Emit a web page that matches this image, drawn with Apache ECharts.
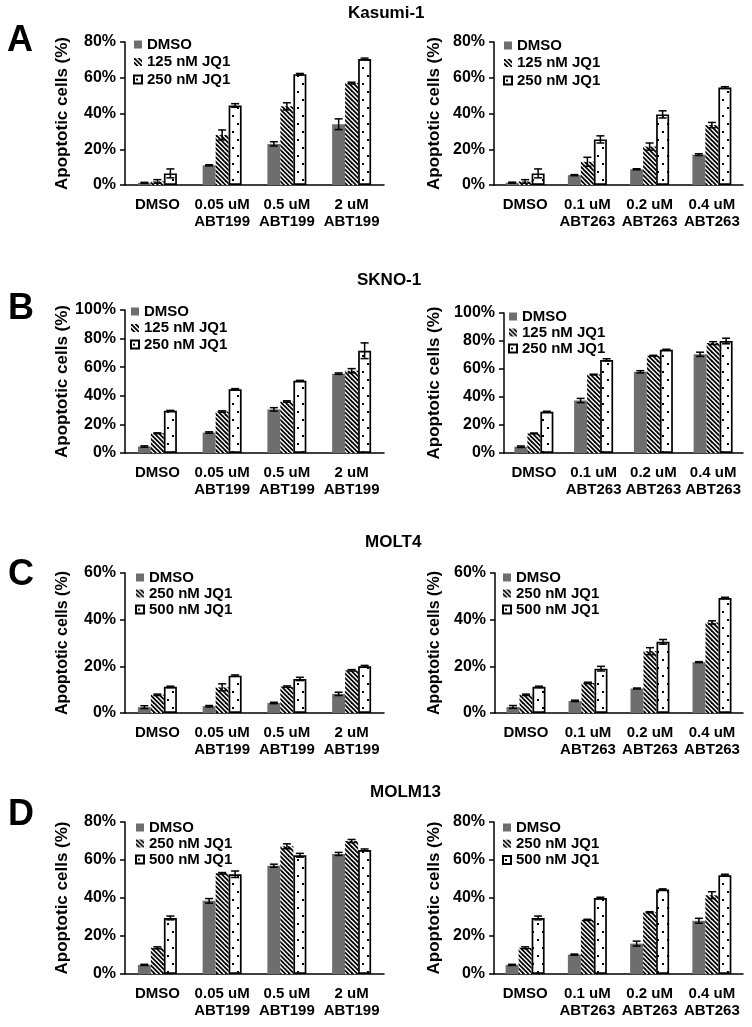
<!DOCTYPE html>
<html>
<head>
<meta charset="utf-8">
<script src="https://cdn.jsdelivr.net/npm/echarts@6/dist/echarts.min.js"></script>
<style>html,body{margin:0;padding:0;background:#fff}#c{width:752px;height:1027px}</style>
</head>
<body>
<div id="c"></div>
<script>
// ---------- data ----------
const catsABT199 = ['DMSO', '0.05 uM\nABT199', '0.5 uM\nABT199', '2 uM\nABT199'];
const catsABT263 = ['DMSO', '0.1 uM\nABT263', '0.2 uM\nABT263', '0.4 uM\nABT263'];
const namesAB = ['DMSO', '125 nM JQ1', '250 nM JQ1'];
const namesCD = ['DMSO', '250 nM JQ1', '500 nM JQ1'];
const rowTitles = ['Kasumi-1', 'SKNO-1', 'MOLT4', 'MOLM13'];
const rowLetters = ['A', 'B', 'C', 'D'];
const yMaxes = [80, 80, 100, 100, 60, 60, 80, 80];
const yInterval = 20;

// values in %, rows = DMSO, low JQ1, high JQ1
const kasumiABT199 = [[1.2, 11, 23, 34], [2, 28, 44, 57], [6.5, 44.5, 62, 70.5]];
const kasumiABT199Err = [[0.3, 0.3, 1.2, 3], [1, 2.8, 2, 0.5], [2.5, 1, 0.4, 0.5]];
const kasumiABT263 = [[1.3, 5.5, 8.8, 17], [2, 13, 21.5, 33.5], [6.5, 25.5, 39.5, 54.5]];
const kasumiABT263Err = [[0.3, 0.3, 0.3, 0.5], [1, 2.5, 2, 1.5], [2.5, 2, 2, 0.5]];
const sknoABT199 = [[4.5, 14.3, 30.5, 55.5], [13.8, 29, 36, 57.5], [29.5, 44.5, 50.5, 71.5]];
const sknoABT199Err = [[0.5, 0.5, 1.2, 0.5], [0.3, 0.5, 0.5, 1.5], [0.3, 0.5, 0.3, 5.5]];
const sknoABT263 = [[4.5, 37.5, 58, 70.5], [14, 56, 69.5, 78.5], [29.5, 66.5, 73.8, 80]];
const sknoABT263Err = [[0.5, 1.5, 0.8, 1.5], [0.3, 0.3, 0.3, 1], [0.3, 0.8, 0.3, 2]];
const moltABT199 = [[2.5, 2.9, 4.3, 8.2], [7.8, 11, 11.3, 18.3], [11.2, 16, 14.6, 20]];
const moltABT199Err = [[0.6, 0.3, 0.3, 0.7], [0.3, 1.5, 0.3, 0.3], [0.3, 0.3, 0.7, 0.4]];
const moltABT263 = [[2.6, 5.2, 10.5, 21.8], [7.8, 12.9, 26.5, 38.8], [11.2, 19, 30.5, 49.3]];
const moltABT263Err = [[0.6, 0.3, 0.2, 0.2], [0.3, 0.3, 1.5, 0.7], [0.3, 1, 1, 0.3]];
const molmABT199 = [[4.8, 38.5, 57, 63.2], [13.8, 53, 67.2, 70], [29.5, 52.5, 62.5, 65.3]];
const molmABT199Err = [[0.3, 1.2, 0.8, 0.8], [0.5, 0.4, 1.3, 0.8], [1, 1.7, 1, 0.5]];
const molmABT263 = [[4.8, 10.2, 16, 28], [13.8, 28.5, 32.5, 41.5], [29.5, 40, 44.5, 52]];
const molmABT263Err = [[0.3, 0.3, 1.3, 1.3], [0.5, 0.3, 0.3, 1.8], [1, 0.4, 0.3, 0.5]];

// ---------- styles ----------
const FONT = '"Liberation Sans", Arial, sans-serif';
const BAR_W = 13;
const GRAY = '#6e6e6e';

function hatchPattern() {
  const c = document.createElement('canvas');
  c.width = 9; c.height = 9;
  const g = c.getContext('2d');
  g.fillStyle = '#fff'; g.fillRect(0, 0, 9, 9);
  g.strokeStyle = '#000'; g.lineWidth = 1.8;
  for (const k of [-9, -4.5, 0, 4.5, 9]) {
    g.beginPath(); g.moveTo(-2, -2 + k); g.lineTo(11, 11 + k); g.stroke();
  }
  return { image: c, repeat: 'repeat' };
}
function dotPattern() {
  const c = document.createElement('canvas');
  c.width = 10; c.height = 16;
  const g = c.getContext('2d');
  g.fillStyle = '#fff'; g.fillRect(0, 0, 10, 16);
  g.fillStyle = '#000';
  g.fillRect(2, 3, 2, 2);
  g.fillRect(7, 11, 2, 2);
  return { image: c, repeat: 'repeat' };
}
const HATCH = hatchPattern();
const DOTS = dotPattern();
const barStyles = [
  { color: GRAY },
  { color: HATCH },
  { color: DOTS, borderColor: '#000', borderWidth: 1.7 }
];

// ---------- layout ----------
const grids = [
  { left: 125, top: 42, width: 259, height: 143 },
  { left: 494, top: 42, width: 249, height: 143 },
  { left: 125, top: 310, width: 259, height: 143 },
  { left: 504, top: 313, width: 239, height: 140 },
  { left: 125, top: 573, width: 259, height: 140 },
  { left: 495, top: 573, width: 248, height: 140 },
  { left: 125, top: 822, width: 259, height: 152 },
  { left: 494, top: 822, width: 249, height: 152 }
];
const nameGaps = [54, 51, 54, 61, 54, 52, 54, 51];
const nameSizes = [17, 17, 17, 17, 16, 16, 17, 17];
const legendPos = [
  { left: 133, top: 37, gap: 2.5 },
  { left: 503, top: 38, gap: 2.5 },
  { left: 130, top: 304, gap: 1.5 },
  { left: 508, top: 309, gap: 1 },
  { left: 135, top: 570, gap: 1 },
  { left: 502, top: 570, gap: 1 },
  { left: 135, top: 820, gap: 1 },
  { left: 502, top: 820, gap: 1.2 }
];
const titlePos = [
  { x: 348, y: 13 }, { x: 357, y: 280 }, { x: 365, y: 542 }, { x: 370, y: 792 }
];
const letterPos = [
  { x: 7, y: 41 }, { x: 8, y: 309 }, { x: 8, y: 575 }, { x: 8, y: 815 }
];

const panels = [
  [catsABT199, kasumiABT199, kasumiABT199Err, namesAB, ''],
  [catsABT263, kasumiABT263, kasumiABT263Err, namesAB, ''],
  [catsABT199, sknoABT199, sknoABT199Err, namesAB, ''],
  [catsABT263, sknoABT263, sknoABT263Err, namesAB, ''],
  [catsABT199, moltABT199, moltABT199Err, namesCD, '#2'],
  [catsABT263, moltABT263, moltABT263Err, namesCD, '#2'],
  [catsABT199, molmABT199, molmABT199Err, namesCD, '#2'],
  [catsABT263, molmABT263, molmABT263Err, namesCD, '#2']
];

function errRender(params, api) {
  const cat = api.value(0), s = api.value(1), v = api.value(2), e = api.value(3);
  const top = api.coord([cat, v + e]);
  const bot = api.coord([cat, v - e]);
  const x = top[0] + (s - 1) * BAR_W;
  const st = { stroke: '#000', lineWidth: 1.5 };
  return {
    type: 'group',
    children: [
      { type: 'line', shape: { x1: x, y1: top[1], x2: x, y2: bot[1] }, style: st },
      { type: 'line', shape: { x1: x - 4, y1: top[1], x2: x + 4, y2: top[1] }, style: st },
      { type: 'line', shape: { x1: x - 4, y1: bot[1], x2: x + 4, y2: bot[1] }, style: st }
    ]
  };
}

const xAxis = [], yAxis = [], series = [], legend = [], graphic = [];
panels.forEach((p, i) => {
  const [cats, vals, errs, names, suffix] = p;
  xAxis.push({
    type: 'category', gridIndex: i, data: cats,
    axisLine: { lineStyle: { color: '#000', width: 1.5 } },
    axisTick: { length: 6, lineStyle: { color: '#000', width: 1.5 } },
    axisLabel: { interval: 0, color: '#000', fontFamily: FONT, fontWeight: 'bold', fontSize: 15, lineHeight: 17, margin: 11 }
  });
  yAxis.push({
    type: 'value', gridIndex: i, min: 0, max: yMaxes[i], interval: yInterval,
    name: 'Apoptotic cells (%)', nameLocation: 'middle', nameGap: nameGaps[i],
    nameTextStyle: { color: '#000', fontFamily: FONT, fontWeight: 'bold', fontSize: nameSizes[i] },
    splitLine: { show: false },
    axisLine: { show: true, lineStyle: { color: '#000', width: 1.5 } },
    axisTick: { show: true, length: 5, lineStyle: { color: '#000', width: 1.5 } },
    axisLabel: { formatter: '{value}%', color: '#000', fontFamily: FONT, fontWeight: 'bold', fontSize: 16, margin: 9 }
  });
  const errData = [];
  vals.forEach((row, s) => {
    series.push({
      type: 'bar', name: names[s] + suffix, xAxisIndex: i, yAxisIndex: i,
      data: row, barWidth: BAR_W, barGap: '0%', itemStyle: barStyles[s],
      emphasis: { disabled: true }, animation: false
    });
    row.forEach((v, c) => errData.push([c, s, v, errs[s][c]]));
  });
  series.push({
    type: 'custom', xAxisIndex: i, yAxisIndex: i, renderItem: errRender,
    data: errData, encode: { x: 0, y: 2 }, z: 10, animation: false, silent: true
  });
  legend.push({
    data: names.map(n => n + suffix), orient: 'vertical',
    left: legendPos[i].left, top: legendPos[i].top, itemGap: legendPos[i].gap,
    itemWidth: 8, itemHeight: 8, padding: 0, icon: 'rect',
    formatter: n => n.replace('#2', ''), selectedMode: false,
    textStyle: { color: '#000', fontFamily: FONT, fontWeight: 'bold', fontSize: 15 }
  });
});

rowTitles.forEach((t, r) => {
  graphic.push({
    type: 'text', x: titlePos[r].x, y: titlePos[r].y,
    style: { text: t, fill: '#000', font: 'bold 17px ' + FONT, verticalAlign: 'middle', align: 'left' }
  });
  graphic.push({
    type: 'text', x: letterPos[r].x, y: letterPos[r].y,
    style: { text: rowLetters[r], fill: '#000', font: 'bold 36px ' + FONT, verticalAlign: 'middle', align: 'left' }
  });
});

const chart = echarts.init(document.getElementById('c'), null, { renderer: 'canvas' });
chart.setOption({
  backgroundColor: '#fff',
  animation: false,
  grid: grids,
  xAxis, yAxis, series, legend, graphic
});
</script>
</body>
</html>
